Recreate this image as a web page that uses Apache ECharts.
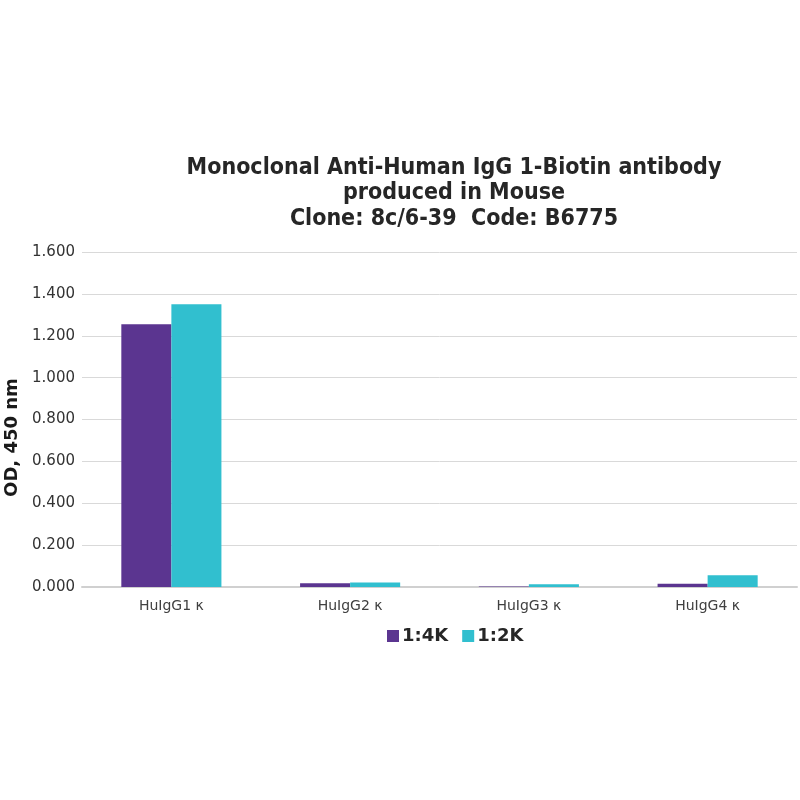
<!DOCTYPE html>
<html>
<head>
<meta charset="utf-8">
<script src="https://cdn.jsdelivr.net/npm/echarts@6/dist/echarts.min.js"></script>
<style>
  html, body { margin: 0; padding: 0; background: #fff; }
  #main { width: 800px; height: 800px; }
</style>
</head>
<body>
<div id="main"></div>
<script>
    // data
    var categories = ['HuIgG1 κ', 'HuIgG2 κ', 'HuIgG3 κ', 'HuIgG4 κ'];
    var dil4K = [1.255, 0.018, 0.002, 0.016];
    var dil2K = [1.351, 0.022, 0.013, 0.056];
    var seriesNames = ['1:4K', '1:2K'];

    var myChart = echarts.init(document.getElementById('main'));

    var option = {
        backgroundColor: '#ffffff',
        title: {
            text: 'Monoclonal Anti-Human IgG 1-Biotin antibody\nproduced in Mouse\nClone: 8c/6-39  Code: B6775',
            left: 449,
            top: 150,
            textAlign: 'center',
            textStyle: {
                fontFamily: 'DejaVu Sans Condensed',
                fontWeight: 'bold',
                fontSize: 23,
                lineHeight: 25.5,
                color: '#262626'
            }
        },
        legend: {
            data: seriesNames,
            left: 382,
            top: 622,
            itemWidth: 12,
            itemHeight: 12,
            itemGap: 14,
            icon: 'rect',
            textStyle: {
                fontFamily: 'DejaVu Sans',
                fontWeight: 'bold',
                fontSize: 18,
                color: '#262626',
                padding: [0, 0, 0, -2]
            }
        },
        grid: {
            left: 82,
            right: 3,
            top: 252,
            bottom: 213,
            containLabel: false,
            outerBoundsMode: 'none'
        },
        xAxis: {
            type: 'category',
            data: categories,
            axisTick: { show: false },
            axisLine: { lineStyle: { color: '#d0d0d0', width: 2 } },
            axisLabel: {
                margin: 12,
                fontFamily: 'DejaVu Sans',
                fontSize: 14,
                color: '#404040'
            }
        },
        yAxis: {
            type: 'value',
            min: 0,
            max: 1.6,
            interval: 0.2,
            name: 'OD, 450 nm',
            nameLocation: 'middle',
            nameGap: 59,
            nameTextStyle: {
                fontFamily: 'DejaVu Sans',
                fontWeight: 'bold',
                fontSize: 18,
                color: '#1a1a1a',
                padding: [0, 0, 0, -36]
            },
            axisLine: { show: false },
            axisTick: { show: false },
            splitLine: { lineStyle: { color: '#d9d9d9', width: 1 } },
            axisLabel: {
                margin: 7,
                fontFamily: 'DejaVu Sans',
                fontSize: 15,
                color: '#333333',
                formatter: function (v) { return v.toFixed(3); }
            }
        },
        series: [
            {
                name: seriesNames[0],
                type: 'bar',
                data: dil4K,
                barGap: '0%',
                barCategoryGap: '44%',
                itemStyle: { color: '#5b3590' }
            },
            {
                name: seriesNames[1],
                type: 'bar',
                data: dil2K,
                itemStyle: { color: '#31bfcf' }
            }
        ]
    };
    myChart.setOption(option);
</script>
</body>
</html>
